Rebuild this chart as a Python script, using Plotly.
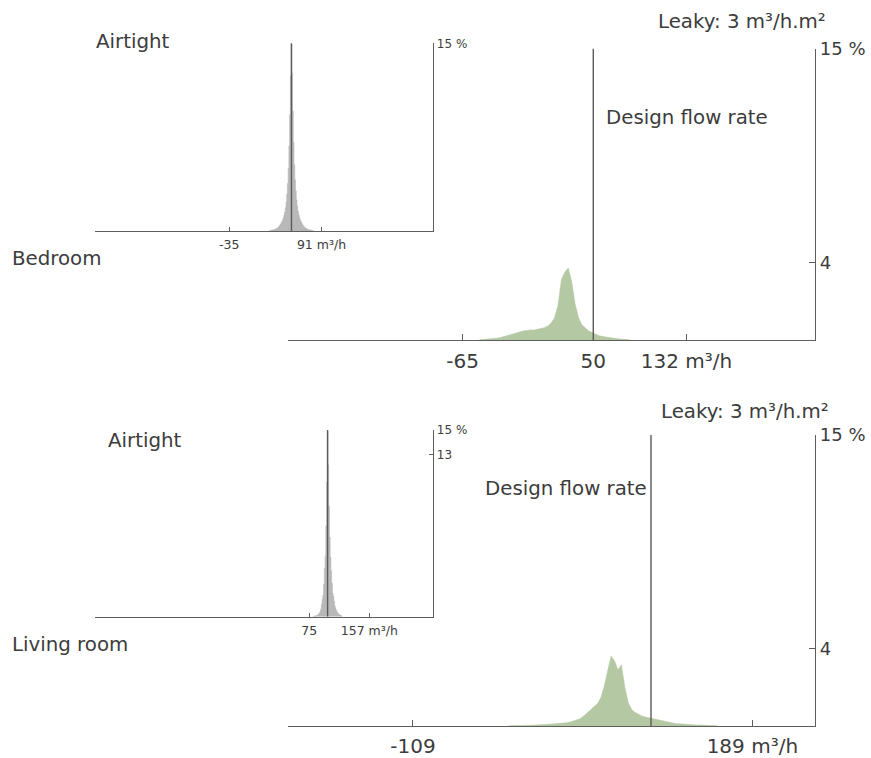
import plotly.graph_objects as go

# ---------------- data ----------------
design_flow_bedroom = 50
design_flow_living = 100

# Bedroom, airtight (1 m3/h bins, % of time)
bed_air_x = [20, 21, 22, 23, 24, 25, 26, 27, 28, 29, 30, 31, 32, 33, 34, 35, 36, 37, 38, 39,
             40, 41, 42, 43, 44, 45, 46, 47, 48, 49, 50, 51, 52, 53, 54, 55, 56, 57, 58, 59,
             60, 61, 62, 63, 64, 65, 66, 67, 68, 69, 70, 71, 72, 73, 74, 75, 76, 77, 78, 79, 80]
bed_air_y = [0.03, 0.04, 0.05, 0.06, 0.07, 0.09, 0.10, 0.12, 0.14, 0.17,
             0.20, 0.24, 0.29, 0.35, 0.43, 0.52, 0.62, 0.74, 0.88, 1.05,
             1.25, 1.50, 1.85, 2.30, 2.95, 3.80, 5.00, 6.80, 9.30, 12.4,
             15.0, 12.6, 9.60, 7.10, 5.30, 4.10, 3.20, 2.50, 2.00, 1.60,
             1.30, 1.08, 0.90, 0.75, 0.63, 0.53, 0.44, 0.36, 0.30, 0.25,
             0.20, 0.17, 0.14, 0.12, 0.10, 0.08, 0.07, 0.06, 0.05, 0.04, 0.03]

# Bedroom, leaky (3 m3/h bins)
bed_leak_x = [-50, -47, -44, -41, -38, -35, -32, -29, -26, -23, -20, -17, -14, -11, -8, -5, -2,
              1, 4, 7, 10, 13, 16, 19, 22, 25, 28, 31, 34, 37, 40, 43, 46, 49, 52, 55, 58,
              61, 64, 67, 70, 73, 76, 79, 82]
bed_leak_y = [0.01, 0.02, 0.03, 0.04, 0.06, 0.09, 0.12, 0.17, 0.22, 0.28, 0.34, 0.40, 0.44,
              0.47, 0.49, 0.52, 0.51, 0.56, 0.57, 0.63, 0.72, 0.88, 1.15, 1.80, 3.10, 3.50,
              3.70, 3.00, 1.85, 1.15, 0.78, 0.60, 0.46, 0.38, 0.29, 0.22, 0.18, 0.15, 0.12,
              0.09, 0.07, 0.05, 0.04, 0.02, 0.01]

# Living room, airtight (1 m3/h bins)
liv_air_x = [80, 81, 82, 83, 84, 85, 86, 87, 88, 89, 90, 91, 92, 93, 94, 95, 96, 97, 98, 99,
             100, 101, 102, 103, 104, 105, 106, 107, 108, 109, 110, 111, 112, 113, 114, 115,
             116, 117, 118, 119, 120]
liv_air_y = [0.02, 0.03, 0.04, 0.05, 0.07, 0.09, 0.12, 0.16, 0.22, 0.30,
             0.42, 0.60, 1.00, 1.40, 1.70, 2.60, 3.90, 4.90, 7.30, 10.8,
             14.8, 12.2, 8.90, 6.40, 4.80, 3.70, 2.70, 1.90, 1.65, 1.25,
             0.85, 0.65, 0.50, 0.38, 0.29, 0.22, 0.17, 0.13, 0.10, 0.07, 0.05]

# Living room, leaky (3 m3/h bins)
liv_leak_x = [-25, -22, -19, -16, -13, -10, -7, -4, -1, 2, 5, 8, 11, 14, 17, 20, 23, 26, 29,
              32, 35, 38, 41, 44, 47, 50, 53, 56, 59, 62, 65, 68, 71, 74, 77, 80, 83, 86, 89,
              92, 95, 98, 101, 104, 107, 110, 113, 116, 119, 122, 125, 128, 131, 134, 137,
              140, 143, 146, 149, 152, 155, 158]
liv_leak_y = [0.01, 0.01, 0.02, 0.02, 0.03, 0.03, 0.04, 0.04, 0.05, 0.05, 0.06, 0.08, 0.09,
              0.10, 0.11, 0.12, 0.14, 0.17, 0.20, 0.25, 0.30, 0.38, 0.52, 0.68, 0.80, 0.95,
              1.15, 1.45, 2.05, 2.85, 3.60, 3.35, 2.90, 3.15, 2.00, 1.20, 0.85, 0.70, 0.60,
              0.52, 0.46, 0.42, 0.37, 0.33, 0.30, 0.26, 0.22, 0.18, 0.14, 0.12, 0.11, 0.09,
              0.08, 0.07, 0.06, 0.05, 0.05, 0.04, 0.03, 0.03, 0.02, 0.01]

# tick labels
bed_air_ticks = [-35, 91]
bed_air_ticktext = ["-35", "91 m³/h"]
bed_leak_ticks = [-65, 50, 132]
bed_leak_ticktext = ["-65", "50", "132 m³/h"]
liv_air_ticks = [75, 157]
liv_air_ticktext = ["75", "157 m³/h"]
liv_leak_ticks = [-109, 189]
liv_leak_ticktext = ["-109", "189 m³/h"]

# ---------------- styling ----------------
FONT = "DejaVu Sans"
TXT = "#3c3c3c"
AX = "#5e5e5e"
GREEN = "#b4c8a3"
GRAY = "#b8b8b8"

fig = go.Figure()

def hist(x, y, color, xa, ya, shape):
    fig.add_trace(go.Scatter(x=x, y=y, xaxis=xa, yaxis=ya, mode="lines",
                             line=dict(shape=shape, color=color, width=0.6),
                             fill="tozeroy", fillcolor=color, hoverinfo="skip",
                             showlegend=False))

hist(bed_air_x, bed_air_y, GRAY, "x", "y", "hvh")
hist(bed_leak_x, bed_leak_y, GREEN, "x2", "y2", "linear")
hist(liv_air_x, liv_air_y, GRAY, "x3", "y3", "hvh")
hist(liv_leak_x, liv_leak_y, GREEN, "x4", "y4", "linear")

W, H = 871, 758
def px(v):
    return v / W
def py(v):
    return 1 - v / H

def xax(dom, rng, tv, tt, size, anchor, standoff):
    return dict(domain=dom, range=rng, anchor=anchor, showline=True, linecolor=AX,
                linewidth=1.3, ticks="inside", ticklen=6 if size > 14 else 4,
                tickcolor=AX, tickwidth=1.2, tickvals=tv, ticktext=tt, automargin=False,
                ticklabelstandoff=standoff,
                tickfont=dict(family=FONT, size=size, color=TXT), showgrid=False,
                zeroline=False, fixedrange=True)

def yax(dom, tv, tt, size, anchor):
    return dict(domain=dom, range=[0, 15.001], anchor=anchor, side="right", showline=True,
                linecolor=AX, linewidth=1.3, ticks="inside", ticklen=6 if size > 14 else 4,
                tickcolor=AX, tickwidth=1.2, tickvals=tv, ticktext=tt, automargin=False,
                tickfont=dict(family=FONT, size=size, color=TXT), showgrid=False,
                zeroline=False, fixedrange=True)

inset_x = [px(95), px(433.3)]
main_x = [px(288), px(815)]

fig.update_layout(
    width=W, height=H, autosize=False,
    margin=dict(l=0, r=0, t=0, b=0, pad=0, autoexpand=False),
    paper_bgcolor="white", plot_bgcolor="rgba(0,0,0,0)",
    xaxis=xax(inset_x, [-218, 243.5], bed_air_ticks, bed_air_ticktext, 12.5, "y", 2),
    yaxis=yax([py(231), py(43.3)], [15], ["15 %"], 12, "x"),
    xaxis2=xax(main_x, [-218.5, 245], bed_leak_ticks, bed_leak_ticktext, 20, "y2", 3),
    yaxis2=yax([py(340), py(48.5)], [4, 15], ["4", "15 %"], 18, "x2"),
    xaxis3=xax(inset_x, [-218, 244.5], liv_air_ticks, liv_air_ticktext, 12.5, "y3", 2),
    yaxis3=yax([py(616.7), py(430)], [13, 15], ["13", "15 %"], 12, "x3"),
    xaxis4=xax(main_x, [-218.7, 244], liv_leak_ticks, liv_leak_ticktext, 20, "y4", 2),
    yaxis4=yax([py(726), py(435)], [4, 15], ["4", "15 %"], 18, "x4"),
)

# design flow rate lines
for xa, ya, v in [("x", "y", design_flow_bedroom), ("x2", "y2", design_flow_bedroom),
                  ("x3", "y3", design_flow_living), ("x4", "y4", design_flow_living)]:
    fig.add_shape(type="line", xref=xa, yref=ya, x0=v, x1=v, y0=0, y1=15,
                  line=dict(color="#5a5a5a", width=1.4), layer="above")

def label(text, x, y, anchor="left", size=19.8):
    fig.add_annotation(text=text, xref="paper", yref="paper", x=px(x), y=py(y),
                       xanchor=anchor, yanchor="middle", showarrow=False,
                       font=dict(family=FONT, size=size, color=TXT))

label("Leaky: 3 m³/h.m²", 656, 21)
label("Design flow rate", 604, 118)
label("Airtight", 94, 41)
label("Bedroom", 10, 258)
label("Leaky: 3 m³/h.m²", 659, 411)
label("Design flow rate", 649, 488, anchor="right")
label("Airtight", 106, 440)
label("Living room", 10, 644)

fig.write_html(
    "out.html",
    config={"responsive": False, "displayModeBar": False},
    post_script="document.body.style.margin='0';document.body.style.padding='0';"
                "document.documentElement.style.overflow='hidden';",
)
